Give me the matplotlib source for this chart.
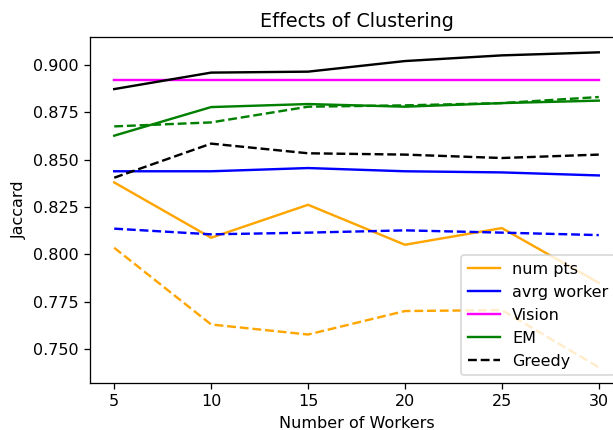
import matplotlib
matplotlib.use("Agg")
import matplotlib.pyplot as plt
from matplotlib.lines import Line2D

workers = [5, 10, 15, 20, 25, 30]

# solid lines
num_pts = [0.8380, 0.8088, 0.8262, 0.8051, 0.8139, 0.7850]
avrg_worker = [0.8439, 0.8439, 0.8456, 0.8439, 0.8433, 0.8417]
vision = [0.8919, 0.8919, 0.8919, 0.8919, 0.8919, 0.8919]
em = [0.8627, 0.8778, 0.8794, 0.8780, 0.8799, 0.8812]
best = [0.8873, 0.8960, 0.8965, 0.9021, 0.9051, 0.9067]

# dashed lines (greedy)
num_pts_greedy = [0.8035, 0.7630, 0.7577, 0.7701, 0.7706, 0.7404]
avrg_worker_greedy = [0.8136, 0.8106, 0.8115, 0.8127, 0.8115, 0.8102]
em_greedy = [0.8676, 0.8697, 0.8780, 0.8787, 0.8799, 0.8831]
greedy = [0.8405, 0.8585, 0.8534, 0.8527, 0.8509, 0.8527]

dpi = 115
fig = plt.figure(figsize=(613 / dpi, 430 / dpi), dpi=dpi)
# the right edge of the axes runs past the figure, as in the cropped original
ax = fig.add_axes([90 / 613, 1 - 383 / 430, 533 / 613, 346 / 430])

lw = 1.5
ax.plot(workers, num_pts, color="orange", lw=lw)
ax.plot(workers, avrg_worker, color="blue", lw=lw)
ax.plot(workers, vision, color="magenta", lw=lw)
ax.plot(workers, em, color="green", lw=lw)
ax.plot(workers, best, color="black", lw=lw)
ax.plot(workers, num_pts_greedy, color="orange", ls="--", lw=lw)
ax.plot(workers, avrg_worker_greedy, color="blue", ls="--", lw=lw)
ax.plot(workers, em_greedy, color="green", ls="--", lw=lw)
ax.plot(workers, greedy, color="black", ls="--", lw=lw)

ax.set_xlim(3.75, 31.25)
ax.set_ylim(0.7321, 0.9148)
ax.set_xticks(workers)
ax.set_yticks([0.750, 0.775, 0.800, 0.825, 0.850, 0.875, 0.900])
ax.set_yticklabels(["0.750", "0.775", "0.800", "0.825", "0.850", "0.875", "0.900"])

handles = [
    Line2D([], [], color="orange", lw=lw),
    Line2D([], [], color="blue", lw=lw),
    Line2D([], [], color="magenta", lw=lw),
    Line2D([], [], color="green", lw=lw),
    Line2D([], [], color="black", ls="--", lw=lw),
]
labels = ["num pts", "avrg worker", "Vision", "EM", "Greedy"]
ax.legend(handles, labels, loc="lower right")

ax.set_title("Effects of Clustering")
ax.set_xlabel("Number of Workers")
ax.set_ylabel("Jaccard")

fig.savefig("out.png", dpi=dpi)
